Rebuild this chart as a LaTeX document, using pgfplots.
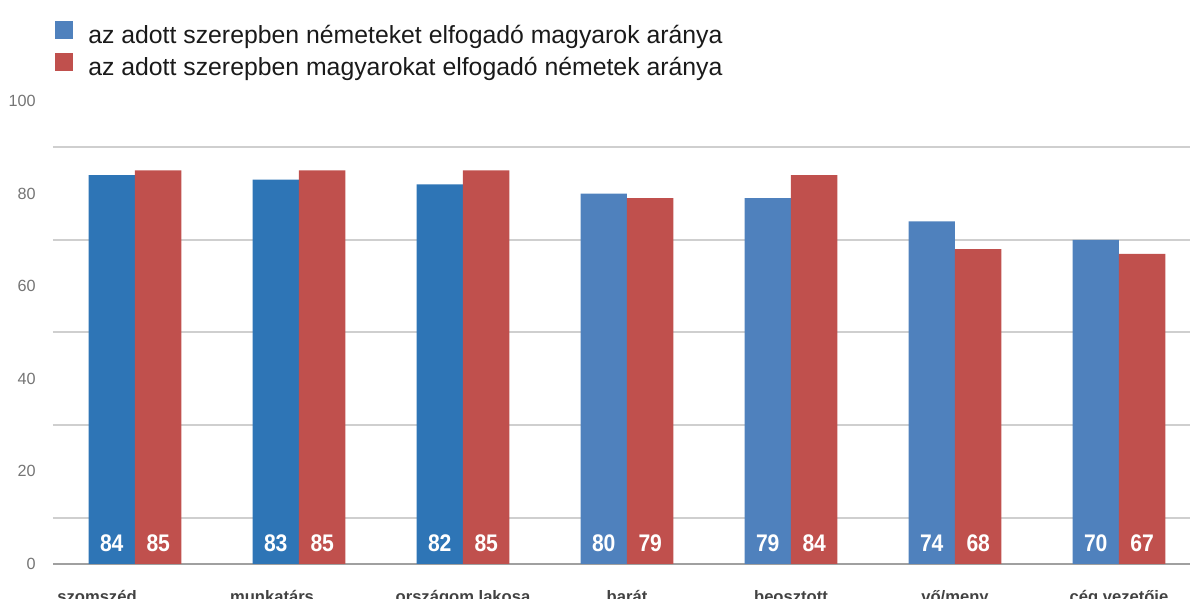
\documentclass[border=0pt]{standalone}
\usepackage{pgfplots}
\pgfplotsset{compat=1.18}
\usepackage{fontspec}
\setmainfont{Liberation Sans}
\newfontfamily\valfont[FakeStretch=0.88]{Liberation Sans}
\definecolor{bluedark}{HTML}{2E75B6}
\definecolor{bluelight}{HTML}{4F81BD}
\definecolor{redbar}{HTML}{C0504D}
\definecolor{gridc}{HTML}{CFCFCF}
\definecolor{basec}{HTML}{A0A0A0}
\definecolor{ticktxt}{HTML}{757575}
\definecolor{cattxt}{HTML}{424242}
\definecolor{legtxt}{HTML}{1A1A1A}

\begin{document}
\begin{tikzpicture}
\useasboundingbox (0,0) rectangle (595pt,299.5pt);
\clip (0,0) rectangle (595pt,299.5pt);
\begin{axis}[
  at={(26.5pt,17.5pt)}, anchor=south west,
  scale only axis, width=574pt, height=231.5pt,
  xmin=-0.5, xmax=6.5, ymin=0, ymax=100,
  axis lines*=left,
  axis line style={-},
  y axis line style={draw=none},
  x axis line style={basec, line width=1pt},
  tick style={draw=none},
  /pgf/number format/assume math mode=true,
  xtick={0,...,6},
  xticklabels={\makebox[0pt]{szomszéd\hspace{38pt}}, \makebox[0pt]{munkatárs\hspace{27pt}}, országom lakosa, barát, beosztott, vő/meny, cég vezetője},
  xticklabel style={font=\fontsize{8.3}{10}\selectfont\bfseries, text=cattxt, anchor=base, yshift=-15pt},
  ytick={0,20,...,100},
  yticklabel style={font=\fontsize{8.1}{10}\selectfont, text=ticktxt, inner sep=0pt, xshift=-8.5pt},
  extra y ticks={10,30,50,70,90},
  extra y tick labels={},
  extra y tick style={ymajorgrids=true, major grid style={gridc, line width=1pt}},
  ybar, bar width=0.2835,
  nodes near coords,
  visualization depends on={y \as \rawy},
  every node near coord/.append style={shift={(axis direction cs:0,-\rawy)}, anchor=base, yshift=6pt, inner sep=0pt, text=white, font=\valfont\bfseries\fontsize{12}{14}\selectfont},
  legend cell align=left,
  legend image code/.code={\fill[#1] (0pt,-1pt) rectangle (9pt,8pt);},
  legend style={at={(axis description cs:0.002,1.172)}, anchor=north west, draw=none, fill=none, inner sep=0pt, outer sep=0pt, font=\fontsize{12.4}{14}\selectfont, text=legtxt, row sep=2pt, nodes={inner sep=0pt, text height=9pt, text depth=3pt}, /tikz/every odd column/.append style={column sep=7.5pt}},
]
\addplot[fill=bluedark, draw=none, bar shift=-0.14175, forget plot] coordinates {(0,84) (1,83) (2,82)};
\addplot[fill=bluelight, draw=none, bar shift=-0.14175] coordinates {(3,80) (4,79) (5,74) (6,70)};
\addlegendentry{az adott szerepben németeket elfogadó magyarok aránya}
\addplot[fill=redbar, draw=none, bar shift=0.14175] coordinates {(0,85) (1,85) (2,85) (3,79) (4,84) (5,68) (6,67)};
\addlegendentry{az adott szerepben magyarokat elfogadó németek aránya}
\end{axis}
\end{tikzpicture}
\end{document}
